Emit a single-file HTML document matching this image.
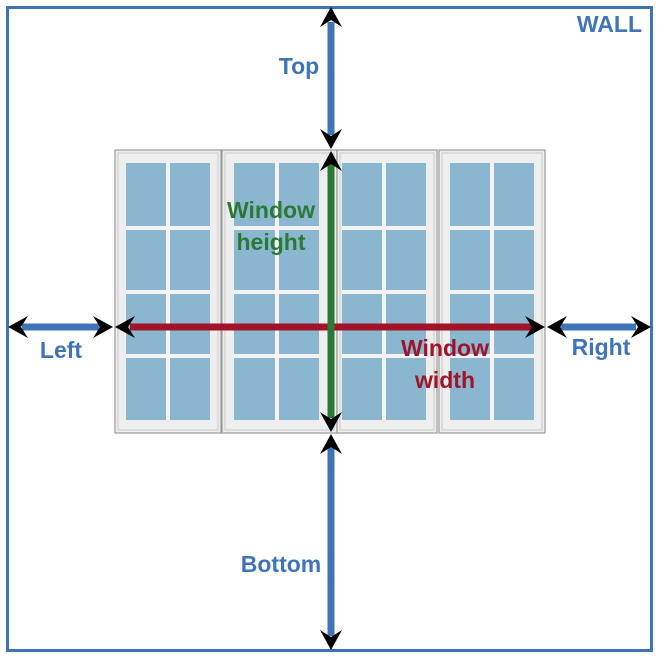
<!DOCTYPE html>
<html><head><meta charset="utf-8"><style>
html,body{margin:0;padding:0;background:#fff;}
svg{display:block;}
text{font-family:"Liberation Sans",sans-serif;font-weight:bold;font-size:23px;}
</style></head><body>
<svg width="658" height="658" viewBox="0 0 658 658" xmlns="http://www.w3.org/2000/svg">
<rect x="7.5" y="7.5" width="644" height="643" fill="none" stroke="#3f74bb" stroke-width="3"/>
<g stroke="#9a9a9a" stroke-width="1.2" fill="#eeeeee">
<rect x="115" y="150" width="106" height="283"/>
<rect x="222" y="150" width="115" height="283"/>
<rect x="337" y="150" width="100" height="283"/>
<rect x="439" y="150" width="106" height="283"/>
</g>
<g stroke="#c9c9c9" stroke-width="1" fill="none">
<rect x="118" y="153" width="100" height="277"/>
<rect x="225" y="153" width="109" height="277"/>
<rect x="340" y="153" width="94" height="277"/>
<rect x="442" y="153" width="100" height="277"/>
</g>
<g fill="#8ab6d0">
<rect x="126" y="163" width="84" height="257"/>
<rect x="234" y="163" width="85" height="257"/>
<rect x="342" y="163" width="84" height="257"/>
<rect x="450" y="163" width="84" height="257"/>
</g>
<g fill="#f4f4f4">
<rect x="166" y="163" width="4" height="257"/>
<rect x="275" y="163" width="4" height="257"/>
<rect x="382" y="163" width="4" height="257"/>
<rect x="490" y="163" width="4" height="257"/>
<rect x="126" y="226" width="84" height="4"/><rect x="126" y="290" width="84" height="4"/><rect x="126" y="354" width="84" height="4"/>
<rect x="234" y="226" width="85" height="4"/><rect x="234" y="290" width="85" height="4"/><rect x="234" y="354" width="85" height="4"/>
<rect x="342" y="226" width="84" height="4"/><rect x="342" y="290" width="84" height="4"/><rect x="342" y="354" width="84" height="4"/>
<rect x="450" y="226" width="84" height="4"/><rect x="450" y="290" width="84" height="4"/><rect x="450" y="354" width="84" height="4"/>
</g>
<g stroke-width="7">
<line x1="331" y1="22" x2="331" y2="135" stroke="#3f74bb"/>
<line x1="331" y1="447" x2="331" y2="636" stroke="#3f74bb"/>
<line x1="22" y1="327" x2="100" y2="327" stroke="#3f74bb"/>
<line x1="560" y1="327" x2="636" y2="327" stroke="#3f74bb"/>
<line x1="130" y1="327" x2="532" y2="327" stroke="#a01328"/>
<line x1="331" y1="164" x2="331" y2="418" stroke="#2a7a35"/>
</g>
<defs><path id="ah" d="M0,0 L-20,-11 L-13,0 L-20,11 Z" fill="#000"/></defs>
<use href="#ah" transform="translate(331,7) rotate(-90)"/>
<use href="#ah" transform="translate(331,149) rotate(90)"/>
<use href="#ah" transform="translate(331,151) rotate(-90)"/>
<use href="#ah" transform="translate(331,432) rotate(90)"/>
<use href="#ah" transform="translate(331,434) rotate(-90)"/>
<use href="#ah" transform="translate(331,650) rotate(90)"/>
<use href="#ah" transform="translate(8,327) rotate(180)"/>
<use href="#ah" transform="translate(113,327)"/>
<use href="#ah" transform="translate(115,327) rotate(180)"/>
<use href="#ah" transform="translate(545,327)"/>
<use href="#ah" transform="translate(547,327) rotate(180)"/>
<use href="#ah" transform="translate(651,327)"/>
<g fill="#3f74bb">
<text x="642" y="32" text-anchor="end">WALL</text>
<text x="299" y="74" text-anchor="middle">Top</text>
<text x="61" y="358" text-anchor="middle">Left</text>
<text x="601" y="355" text-anchor="middle">Right</text>
<text x="281" y="572" text-anchor="middle">Bottom</text>
</g>
<g fill="#2a7a35">
<text x="271" y="218" text-anchor="middle">Window</text>
<text x="271" y="250" text-anchor="middle">height</text>
</g>
<g fill="#a01328">
<text x="445" y="356" text-anchor="middle">Window</text>
<text x="445" y="388" text-anchor="middle">width</text>
</g>
</svg>
</body></html>
